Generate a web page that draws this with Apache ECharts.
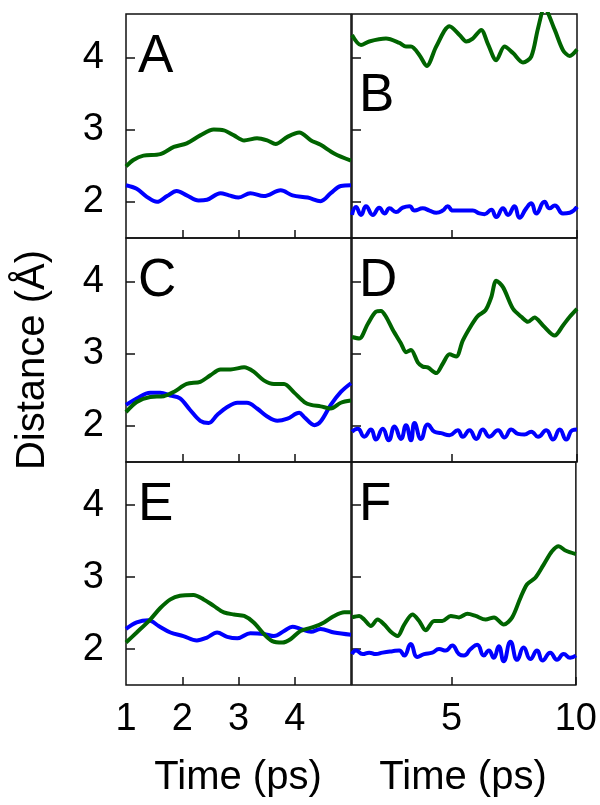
<!DOCTYPE html>
<html>
<head>
<meta charset="utf-8">
<script src="https://cdn.jsdelivr.net/npm/echarts@6/dist/echarts.min.js"></script>
<style>
html,body{margin:0;padding:0;background:#fff;}
#c{width:600px;height:805px;}
</style>
</head>
<body>
<div id="c"></div>
<script>
// ---- Data (time in ps, distance in Å) ----
const tA_g = [1,1.13,1.31,1.61,1.85,2.08,2.32,2.56,2.74,2.92,3.1,3.33,3.51,3.66,3.87,4.08,4.29,4.46,4.7,5.0];
const dA_g = [2.49,2.58,2.64,2.66,2.76,2.81,2.92,3.0,2.99,2.92,2.85,2.88,2.85,2.80,2.90,2.96,2.85,2.79,2.67,2.57];
const tA_b = [1,1.19,1.37,1.55,1.73,1.9,2.08,2.29,2.44,2.68,2.83,3.0,3.21,3.45,3.75,3.96,4.23,4.46,4.64,4.82,5.0];
const dA_b = [2.23,2.18,2.07,2.0,2.08,2.15,2.09,2.02,2.03,2.12,2.09,2.06,2.12,2.08,2.16,2.09,2.06,2.01,2.12,2.22,2.23];

const tB_g = [1,1.36,1.69,2.36,2.9,3.16,3.36,3.7,3.99,4.37,4.9,5.3,5.57,5.83,6.17,6.43,6.77,7.1,7.44,7.84,8.17,8.44,8.7,9.11,9.44,9.71,10];
const dB_g = [4.31,4.17,4.22,4.26,4.2,4.15,4.15,4.03,3.88,4.15,4.43,4.31,4.22,4.26,4.38,4.19,3.96,4.15,4.06,3.93,4.01,4.4,4.68,4.38,4.1,4.02,4.11];
const tB_b = [1.00,1.16,1.36,1.56,1.83,2.09,2.30,2.50,2.76,3.03,3.30,3.50,3.83,4.10,4.37,4.63,4.83,5.03,5.30,5.57,5.83,6.10,6.30,6.57,6.77,7.04,7.24,7.50,7.70,7.97,8.17,8.37,8.70,8.90,9.11,9.44,9.71,10];
const dB_b = [1.82,1.93,1.82,1.94,1.82,1.92,1.84,1.91,1.86,1.92,1.94,1.88,1.91,1.88,1.85,1.88,1.94,1.88,1.88,1.88,1.88,1.84,1.83,1.89,1.79,1.91,1.82,1.94,1.78,1.91,1.98,1.84,2.0,1.91,1.95,1.84,1.85,1.93];

const tC_g = [1,1.19,1.43,1.67,1.85,2.08,2.32,2.5,2.68,2.86,3.1,3.27,3.45,3.63,3.81,3.99,4.17,4.29,4.46,4.64,4.82,5.0];
const dC_g = [2.19,2.33,2.40,2.41,2.47,2.58,2.61,2.70,2.78,2.78,2.81,2.75,2.63,2.58,2.58,2.46,2.33,2.29,2.27,2.24,2.32,2.35];
const tC_b = [1,1.19,1.43,1.61,1.79,1.96,2.14,2.32,2.47,2.62,2.8,2.98,3.15,3.33,3.51,3.69,3.87,4.08,4.17,4.35,4.46,4.64,4.82,5.0];
const dC_b = [2.29,2.38,2.46,2.46,2.42,2.38,2.22,2.07,2.04,2.15,2.26,2.32,2.32,2.24,2.13,2.07,2.10,2.18,2.12,2.01,2.06,2.29,2.47,2.59];

const tD_g = [1,1.29,1.63,1.96,2.16,2.36,2.63,2.96,3.16,3.36,3.63,3.83,4.03,4.37,4.63,4.9,5.17,5.43,5.77,6.03,6.34,6.57,6.77,7.04,7.44,7.77,8.04,8.3,8.64,9.11,9.44,9.71,10];
const dD_g = [3.23,3.21,3.41,3.58,3.59,3.51,3.33,3.14,3.02,3.05,2.88,2.82,2.81,2.73,2.86,2.99,2.96,3.18,3.39,3.52,3.60,3.78,4.01,3.92,3.62,3.51,3.44,3.50,3.39,3.25,3.39,3.51,3.62];
const tD_b = [1.00,1.23,1.49,1.76,1.96,2.23,2.47,2.70,2.96,3.16,3.36,3.50,3.76,4.03,4.30,4.57,4.90,5.23,5.43,5.70,5.97,6.23,6.50,6.84,7.10,7.37,7.64,7.90,8.17,8.44,8.77,9.04,9.31,9.57,9.81,10];
const dD_b = [1.92,1.96,1.85,1.95,1.81,1.96,1.80,1.99,1.82,2.01,1.80,2.04,1.82,2.02,1.92,1.90,1.87,1.94,1.85,1.94,1.82,1.95,1.85,1.94,1.84,1.95,1.89,1.88,1.92,1.85,1.94,1.81,1.95,1.81,1.94,1.95];

const tE_g = [1,1.19,1.43,1.61,1.79,1.96,2.2,2.38,2.56,2.74,2.92,3.1,3.27,3.45,3.6,3.78,3.93,4.1,4.35,4.52,4.7,4.88,5];
const dE_g = [2.09,2.23,2.41,2.57,2.69,2.74,2.75,2.69,2.60,2.51,2.48,2.46,2.37,2.21,2.11,2.09,2.14,2.25,2.31,2.37,2.46,2.51,2.51];
const tE_b = [1,1.19,1.4,1.58,1.79,2.02,2.26,2.44,2.62,2.8,2.98,3.21,3.45,3.63,3.81,3.96,4.1,4.29,4.46,4.7,5];
const dE_b = [2.28,2.37,2.40,2.32,2.23,2.18,2.12,2.16,2.23,2.17,2.15,2.22,2.21,2.18,2.25,2.31,2.28,2.24,2.28,2.23,2.20];

const tF_g = [1,1.29,1.49,1.76,2.03,2.3,2.56,2.83,3.1,3.43,3.7,3.96,4.3,4.63,4.97,5.3,5.64,5.97,6.37,6.71,7.1,7.44,7.77,8.04,8.37,8.7,9.04,9.31,9.58,10];
const dF_g = [2.44,2.46,2.41,2.32,2.41,2.34,2.24,2.18,2.34,2.48,2.39,2.26,2.39,2.39,2.46,2.44,2.49,2.46,2.41,2.44,2.34,2.44,2.71,2.90,2.99,3.17,3.36,3.43,3.37,3.32];
const tF_b = [1.00,1.16,1.43,1.69,1.96,2.23,2.63,2.90,3.10,3.36,3.63,3.90,4.23,4.50,4.77,5.03,5.30,5.50,5.77,6.03,6.30,6.50,6.70,6.90,7.10,7.37,7.64,7.90,8.17,8.44,8.66,8.97,9.24,9.51,9.77,10];
const dF_b = [1.93,1.98,1.93,1.95,1.93,1.95,1.97,1.98,1.91,2.07,1.89,1.93,1.95,2.0,1.98,2.05,1.93,1.91,2.0,2.06,1.91,1.98,1.88,2.04,1.83,2.10,1.85,2.02,1.86,1.98,1.84,1.95,1.85,1.93,1.88,1.91];

const panelLetters = ['A','B','C','D','E','F'];
const leftTicks = [2,3,4];
const leftLabels = [1,2,3,4];
const rightTicks = [5,10];
const yTicks = [2,3,4];

const panels = [
  [tA_g,dA_g,tA_b,dA_b],
  [tB_g,dB_g,tB_b,dB_b],
  [tC_g,dC_g,tC_b,dC_b],
  [tD_g,dD_g,tD_b,dD_b],
  [tE_g,dE_g,tE_b,dE_b],
  [tF_g,dF_g,tF_b,dF_b]
];

function pairs(t, d){ return t.map((v,i)=>[v,d[i]]); }

const FONT = '"Liberation Sans", Arial, sans-serif';
const GREEN = '#006400';
const BLUE = '#0000ff';
const tops = [14, 238, 462];
const heights = [224, 224, 223];
const lefts = [126, 352];
const W = 225;

const grid = [], xAxis = [], yAxis = [], series = [], graphic = [];
panels.forEach((p, i) => {
  const row = Math.floor(i/2), col = i % 2;
  const bottomRow = row === 2;
  grid.push({left: lefts[col], top: tops[row], width: W, height: heights[row],
    show: true, borderColor: '#111', borderWidth: 1.5, backgroundColor: 'transparent'});
  xAxis.push({type: 'value', gridIndex: i, min: 1, max: col === 0 ? 5 : 10,
    axisLine: {show: false}, splitLine: {show: false},
    axisTick: {show: true, inside: true, length: 8, lineStyle: {color: '#111', width: 1.5},
      customValues: col === 0 ? leftTicks : rightTicks},
    axisLabel: {show: bottomRow, customValues: col === 0 ? leftLabels : rightTicks,
      fontSize: 38, fontFamily: FONT, color: '#000', margin: 16}
  });
  yAxis.push({type: 'value', gridIndex: i, min: 1.5, max: 4.6,
    axisLine: {show: false}, splitLine: {show: false},
    axisTick: {show: true, inside: true, length: 9, lineStyle: {color: '#111', width: 1.5},
      customValues: yTicks},
    axisLabel: {show: col === 0, customValues: yTicks,
      fontSize: 38, fontFamily: FONT, color: '#000', margin: 22}
  });
  const wavy = (col === 1);
  series.push({type: 'line', xAxisIndex: i, yAxisIndex: i, data: pairs(p[2], p[3]),
    showSymbol: false, smooth: wavy ? 0.5 : 0.35, clip: true,
    lineStyle: {color: BLUE, width: 4}, z: 3});
  series.push({type: 'line', xAxisIndex: i, yAxisIndex: i, data: pairs(p[0], p[1]),
    showSymbol: false, smooth: 0.3, clip: true,
    lineStyle: {color: GREEN, width: 4}, z: 4});
  graphic.push({type: 'text', left: col === 0 ? 138 : 359,
    top: tops[row] + (i === 1 ? 56 : 17),
    style: {text: panelLetters[i], font: '53px ' + FONT, fill: '#000'}});
});

graphic.push({type: 'text', x: 238, y: 778,
  style: {text: 'Time (ps)', font: '40px ' + FONT, fill: '#000', align: 'center', verticalAlign: 'middle'}});
graphic.push({type: 'text', x: 463, y: 778,
  style: {text: 'Time (ps)', font: '40px ' + FONT, fill: '#000', align: 'center', verticalAlign: 'middle'}});
graphic.push({type: 'text', x: 33, y: 360, rotation: Math.PI/2,
  style: {text: 'Distance (Å)', font: '40px ' + FONT, fill: '#000', align: 'center', verticalAlign: 'middle'}});

const chart = echarts.init(document.getElementById('c'), null, {renderer: 'canvas'});
chart.setOption({animation: false, backgroundColor: '#fff', grid, xAxis, yAxis, series, graphic});
</script>
</body>
</html>
